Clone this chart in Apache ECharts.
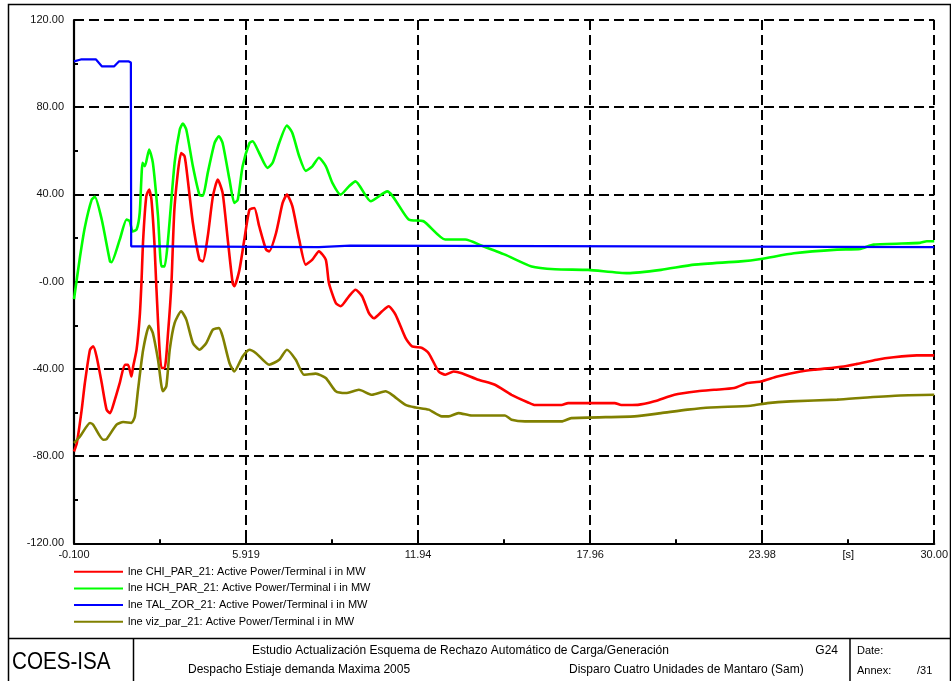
<!DOCTYPE html>
<html>
<head>
<meta charset="utf-8">
<script src="https://cdn.jsdelivr.net/npm/echarts@6/dist/echarts.min.js"></script>
<style>
  html, body { margin: 0; padding: 0; background: #fff; }
  #chart { width: 951px; height: 681px; }
</style>
</head>
<body>
<div id="chart"></div>
<script>
// Simulation time axis (s) and tick labels
const X_MIN = -0.1;
const X_MAX = 30.0;
const xTickLabels = ['-0.100', '5.919', '11.94', '17.96', '23.98', '30.00'];
const yTickValues = [-120, -80, -40, 0, 40, 80, 120];

const seriesNames = [
  'lne CHI_PAR_21: Active Power/Terminal i in MW',
  'lne HCH_PAR_21: Active Power/Terminal i in MW',
  'lne TAL_ZOR_21: Active Power/Terminal i in MW',
  'lne viz_par_21: Active Power/Terminal i in MW'
];

// CHI_PAR_21 active power (MW)
const chiTime = [-0.1, 0.0, 0.17, 0.28, 0.46, 0.57, 0.69, 0.87, 1.04, 1.16, 1.33, 1.50, 1.68, 1.79, 1.91, 1.97,
  2.09, 2.20, 2.26, 2.32, 2.43, 2.53, 2.61, 2.72, 2.78, 2.96, 3.07, 3.19, 3.31, 3.42, 3.65, 3.77, 3.88,
  4.06, 4.29, 4.41, 4.58, 4.76, 4.93, 5.10, 5.28, 5.45, 5.51, 5.69, 5.86, 6.04, 6.21, 6.38, 6.62, 6.73,
  6.97, 7.20, 7.35, 7.54, 7.78, 8.01, 8.24, 8.47, 8.71, 8.82, 9.06, 9.23, 9.52, 9.75, 9.98, 10.22, 10.39,
  10.68, 10.91, 11.15, 11.50, 11.73, 12.08, 12.31, 12.66, 12.89, 13.18, 13.47, 14.05, 14.63, 15.21, 15.79,
  16.03, 16.96, 17.19, 18.82, 19.05, 19.63, 20.21, 20.91, 21.72, 22.30, 23.00, 23.46, 23.93, 24.51, 25.32,
  25.79, 26.83, 27.30, 27.99, 28.58, 29.39, 30.0];
const chiMW = [-77.9, -74.0, -58.7, -46.5, -31.2, -29.7, -34.3, -46.5, -58.7, -60.3, -54.1, -46.5, -38.1, -38.1, -43.5, -38.9,
  -31.2, -15.9, -0.6, 19.3, 39.2, 42.2, 37.6, 16.2, -2.1, -39.6, -39.6, -23.6, -0.6, 34.6, 59.0, 57.5, 46.8,
  26.9, 10.1, 9.3, 20.8, 39.1, 46.8, 40.7, 19.3, -0.6, -2.1, 5.5, 19.3, 33.0, 33.8, 25.4, 14.7, 13.9,
  22.3, 36.1, 39.9, 34.6, 19.3, 7.8, 10.1, 13.9, 10.1, -0.6, -9.8, -11.3, -6.7, -3.7, -6.7, -14.4, -16.8,
  -13.6, -11.3, -15.1, -25.8, -29.7, -30.4, -32.8, -41.2, -42.7, -41.2, -42.0, -45.0, -47.3, -51.9, -55.4,
  -56.6, -56.6, -55.7, -55.7, -56.6, -56.5, -54.9, -51.9, -50.3, -49.6, -48.8, -46.5, -45.8, -43.5, -41.2,
  -40.4, -38.9, -37.7, -35.8, -34.7, -33.8, -33.8];

// HCH_PAR_21 active power (MW)
const hchTime = [-0.1, 0.11, 0.28, 0.52, 0.63, 0.87, 1.16, 1.21, 1.50, 1.74, 1.85, 1.95, 2.09, 2.20, 2.30, 2.38,
  2.53, 2.66, 2.84, 2.96, 3.07, 3.19, 3.42, 3.60, 3.71, 3.83, 4.06, 4.29, 4.41, 4.58, 4.82, 4.97, 5.10,
  5.34, 5.51, 5.63, 5.80, 6.04, 6.15, 6.38, 6.67, 6.85, 7.08, 7.35, 7.54, 7.78, 8.01, 8.24, 8.47, 8.71,
  8.94, 9.23, 9.52, 9.75, 10.28, 10.86, 11.61, 12.13, 12.89, 13.59, 14.17, 14.98, 15.91, 16.73, 17.89,
  19.28, 20.44, 21.61, 23.23, 23.93, 25.09, 26.60, 27.41, 27.88, 29.50, 29.74, 30.0];
const hchMW = [-8.0, 11.4, 25.0, 37.6, 38.9, 28.5, 9.3, 8.9, 19.3, 28.5, 27.7, 23.0, 23.9, 31.7, 54.5, 52.9,
  60.6, 54.5, 30.0, 7.0, 7.0, 19.3, 54.5, 69.7, 72.5, 69.7, 52.9, 39.8, 39.4, 49.9, 63.6, 66.7, 63.6,
  46.8, 36.1, 37.6, 52.9, 63.6, 64.4, 59.0, 52.2, 54.5, 63.6, 71.6, 68.2, 57.5, 50.8, 52.9, 56.8, 53.0,
  45.3, 39.9, 43.7, 46.0, 36.9, 41.4, 28.5, 27.7, 19.3, 19.3, 16.5, 12.4, 7.0, 5.7, 5.4,
  3.9, 5.4, 7.8, 9.3, 10.4, 13.0, 14.7, 15.0, 17.0, 17.8, 18.5, 18.5];

// TAL_ZOR_21 active power (MW)
const talTime = [-0.1, 0.14, 0.67, 0.88, 1.30, 1.47, 1.82, 1.89, 1.90, 2.90, 2.91, 8.47, 8.48, 9.56, 9.57, 30.0];
const talMW = [101.0, 101.9, 101.9, 98.7, 98.7, 101.0, 101.0, 100.5, 16.2, 16.2, 15.8, 15.8, 16.5, 16.5, 15.8, 15.8];

// viz_par_21 active power (MW)
const vizTime = [-0.1, 0.11, 0.46, 0.57, 0.92, 1.04, 1.39, 1.62, 1.91, 2.03, 2.14, 2.32, 2.53, 2.66, 2.84, 3.01,
  3.13, 3.25, 3.42, 3.65, 3.83, 4.06, 4.29, 4.53, 4.76, 4.97, 5.10, 5.34, 5.51, 5.80, 6.04, 6.27, 6.73,
  7.08, 7.35, 7.66, 7.95, 8.36, 8.71, 9.06, 9.41, 9.87, 10.33, 10.80, 11.03, 11.50, 11.85, 12.31, 12.77,
  13.01, 13.35, 13.82, 14.98, 15.21, 15.68, 16.96, 17.30, 19.51, 20.44, 21.37, 22.18, 23.58, 24.16, 24.97,
  26.60, 27.65, 28.81, 30.0];
const vizMW = [-74.0, -71.0, -64.8, -65.6, -72.5, -72.2, -65.6, -64.4, -64.8, -61.8, -49.6, -31.2, -20.2, -23.6, -35.8, -50.3,
  -48.0, -31.2, -19.0, -13.6, -17.4, -28.1, -31.2, -28.1, -22.0, -21.3, -25.1, -37.3, -41.2, -34.3, -31.2, -32.8, -38.1,
  -35.8, -31.2, -35.8, -42.7, -42.2, -44.2, -50.3, -51.1, -49.6, -51.9, -50.3, -51.9, -56.5, -57.7, -58.7, -61.8,
  -61.8, -60.3, -61.4, -61.4, -63.3, -64.1, -64.1, -62.6, -61.8, -60.3, -58.7, -57.7, -56.9, -55.7, -54.9,
  -54.1, -53.1, -52.2, -51.9];

const seriesColors = ['#ff0000', '#00ff00', '#0000ff', '#808000'];

// Axis runs from 0 so that ticks fall on the labelled times
const X_SPAN = X_MAX - X_MIN;
const X_STEP = X_SPAN / (xTickLabels.length - 1);
const toPoints = (ts, vs) => ts.map((t, i) => [t - X_MIN, vs[i]]);

const FONT = "'Liberation Sans', Arial, sans-serif";
const chart = echarts.init(document.getElementById('chart'), null, { renderer: 'canvas' });

const gridLine = { show: true, lineStyle: { color: '#000', width: 2, type: [10, 5] } };

const series = [
  { times: chiTime, vals: chiMW, smooth: 0.2, width: 2.6 },
  { times: hchTime, vals: hchMW, smooth: 0.2, width: 2.6 },
  { times: talTime, vals: talMW, smooth: false, width: 2.2 },
  { times: vizTime, vals: vizMW, smooth: 0.2, width: 2.6 }
].map((s, i) => ({
  name: seriesNames[i],
  type: 'line',
  data: toPoints(s.times, s.vals),
  symbol: 'none',
  showSymbol: false,
  smooth: s.smooth,
  lineStyle: { color: seriesColors[i], width: s.width },
  itemStyle: { color: seriesColors[i] },
  z: 3 + i
}));

chart.setOption({
  animation: false,
  backgroundColor: '#fff',
  textStyle: { fontFamily: FONT },
  grid: { left: 74, right: 13.3, top: 20, bottom: 137.7, containLabel: false },
  xAxis: {
    type: 'value',
    min: 0,
    max: X_SPAN,
    interval: X_STEP,
    axisLine: { onZero: false, lineStyle: { color: '#000', width: 2.2 } },
    axisTick: { show: true, inside: true, length: 5, lineStyle: { color: '#000', width: 2 } },
    minorTick: { show: true, splitNumber: 2, length: 4, lineStyle: { color: '#000', width: 2 } },
    axisLabel: {
      color: '#111', fontSize: 11, fontFamily: FONT, margin: 6,
      formatter: v => xTickLabels[Math.round(v / X_STEP)] || ''
    },
    splitLine: gridLine
  },
  yAxis: {
    type: 'value',
    min: yTickValues[0],
    max: yTickValues[yTickValues.length - 1],
    interval: 40,
    axisLine: { show: true, lineStyle: { color: '#000', width: 2.2 } },
    axisTick: { show: true, inside: true, length: 5, lineStyle: { color: '#000', width: 2 } },
    minorTick: { show: true, splitNumber: 2, length: 4, lineStyle: { color: '#000', width: 2 } },
    axisLabel: {
      color: '#111', fontSize: 11, fontFamily: FONT, margin: 10,
      formatter: v => (v === 0 ? '-0.00' : v.toFixed(2))
    },
    splitLine: gridLine
  },
  legend: {
    data: seriesNames,
    orient: 'vertical',
    left: 73,
    top: 565.7,
    itemWidth: 49,
    itemHeight: 12,
    itemGap: 4.7,
    padding: 0,
    itemStyle: { opacity: 0 },
    textStyle: { color: '#000', fontSize: 11, fontFamily: FONT, lineHeight: 12 },
    selectedMode: false
  },
  series: series
});

// Unit label sits on the minor tick between the last two labelled times
const unitX = chart.convertToPixel({ xAxisIndex: 0 }, X_SPAN - X_STEP / 2);

const txt = (text, x, y, size, align, extra) => Object.assign({
  type: 'text', silent: true, z: 100,
  style: { text: text, x: x, y: y, fill: '#000', font: size + 'px ' + FONT, textAlign: align || 'left', textVerticalAlign: 'middle' }
}, extra || {});
const ln = (x1, y1, x2, y2, w) => ({
  type: 'line', silent: true, z: 100,
  shape: { x1: x1, y1: y1, x2: x2, y2: y2 },
  style: { stroke: '#000', lineWidth: w || 1.5 }
});

chart.setOption({
  graphic: [
    // page frame and title block
    { type: 'rect', silent: true, z: 100, shape: { x: 8.5, y: 4.5, width: 942, height: 700 },
      style: { fill: 'none', stroke: '#000', lineWidth: 1.5 } },
    ln(8, 638.5, 951, 638.5, 1.5),
    ln(133.5, 638.5, 133.5, 681, 1.5),
    ln(850, 638.5, 850, 681, 1.5),
    txt('[s]', unitX, 555, 11, 'center'),
    { type: 'text', silent: true, z: 100, x: 12, y: 662, scaleX: 0.86,
      style: { text: 'COES-ISA', x: 0, y: 0, fill: '#000', font: '24px ' + FONT, textAlign: 'left', textVerticalAlign: 'middle' } },
    txt('Estudio Actualización Esquema de Rechazo Automático de Carga/Generación', 252, 650.5, 12),
    txt('G24', 838, 650.5, 12, 'right'),
    txt('Despacho Estiaje demanda Maxima 2005', 188, 669.5, 12),
    txt('Disparo Cuatro Unidades de Mantaro (Sam)', 569, 669.5, 12),
    txt('Date:', 857, 650.5, 11),
    txt('Annex:', 857, 670.5, 11),
    txt('/31', 917, 670.5, 11)
  ]
});
</script>
</body>
</html>
